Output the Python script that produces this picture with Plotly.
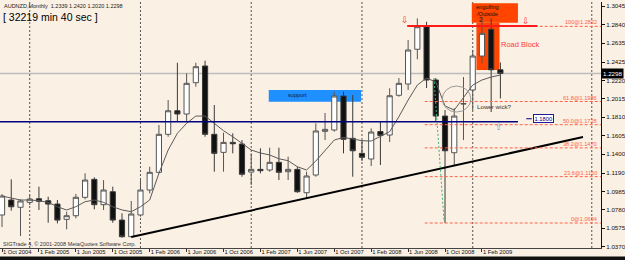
import plotly.graph_objects as go

# ---------------- data ----------------
month_idx = list(range(55))  # 0 = Oct 2004 ... 54 = Apr 2009
opens = [1.0723, 1.0890, 1.0809, 1.0864, 1.0904, 1.0882, 1.0845, 1.0675, 1.0715, 1.0920,
         1.1120, 1.0838, 1.0982, 1.0667, 1.0482, 1.0723, 1.1001, 1.1198, 1.1621, 1.1883,
         1.1847, 1.2195, 1.2381, 1.1621, 1.1420, 1.1531, 1.1513, 1.1201, 1.1231, 1.1224,
         1.1309, 1.1205, 1.1231, 1.0971, 1.1168, 1.1654, 1.1669, 1.2047, 1.1576, 1.1409,
         1.1346, 1.1652, 1.1613, 1.2055, 1.2181, 1.2567, 1.2818, 1.2225, 1.1824, 1.1416,
         1.1958, 1.2114, 1.2492, 1.2789, 1.2339]
highs = [1.0956, 1.1120, 1.0898, 1.0945, 1.1038, 1.0927, 1.0890, 1.0760, 1.0957, 1.1187,
         1.1142, 1.1112, 1.1038, 1.0742, 1.0879, 1.1112, 1.1260, 1.1724, 1.2002, 1.2417,
         1.2299, 1.2417, 1.2440, 1.1947, 1.1639, 1.1632, 1.1557, 1.1409, 1.1465, 1.1472,
         1.1472, 1.1372, 1.1260, 1.1205, 1.1743, 1.1858, 1.2095, 1.2095, 1.2058, 1.1557,
         1.1687, 1.1761, 1.2133, 1.2247, 1.2670, 1.2911, 1.2873, 1.2247, 1.1891, 1.1910,
         1.2258, 1.2559, 1.2911, 1.2911, 1.2420]
lows = [1.0589, 1.0771, 1.0489, 1.0834, 1.0779, 1.0637, 1.0630, 1.0564, 1.0686, 1.0898,
        1.0786, 1.0779, 1.0637, 1.0470, 1.0478, 1.0704, 1.0964, 1.1187, 1.1594, 1.1761,
        1.1761, 1.2150, 1.1594, 1.1205, 1.1205, 1.1409, 1.1149, 1.1057, 1.1187, 1.1205,
        1.1112, 1.1112, 1.0971, 1.0909, 1.1149, 1.1557, 1.1650, 1.1409, 1.1149, 1.1324,
        1.1268, 1.1279, 1.1535, 1.2039, 1.2114, 1.2455, 1.2136, 1.1758, 1.0634, 1.1268,
        1.1557, 1.1891, 1.2411, 1.1869, 1.2020]
closes = [1.0934, 1.0815, 1.0879, 1.0901, 1.0875, 1.0845, 1.0667, 1.0715, 1.0920, 1.1112,
          1.0838, 1.1001, 1.0667, 1.0482, 1.0734, 1.1001, 1.1198, 1.1621, 1.1883, 1.1847,
          1.2188, 1.2373, 1.1621, 1.1409, 1.1531, 1.1516, 1.1176, 1.1231, 1.1216, 1.1309,
          1.1198, 1.1231, 1.0982, 1.1157, 1.1658, 1.1676, 1.2047, 1.1565, 1.1438, 1.1365,
          1.1646, 1.1607, 1.2050, 1.2188, 1.2559, 1.2818, 1.2225, 1.1824, 1.1438, 1.1824,
          1.1962, 1.2492, 1.2744, 1.2339, 1.2298]
ma_values = [1.0934, 1.0912, 1.0890, 1.0890, 1.0882, 1.0864, 1.0815, 1.0779, 1.0815, 1.0871,
             1.0890, 1.0864, 1.0815, 1.0779, 1.0760, 1.0815, 1.0890, 1.1187, 1.1446, 1.1632,
             1.1743, 1.1824, 1.1824, 1.1743, 1.1661, 1.1594, 1.1521, 1.1446, 1.1413, 1.1391,
             1.1349, 1.1327, 1.1260, 1.1224, 1.1324, 1.1438, 1.1557, 1.1587, 1.1565, 1.1550,
             1.1546, 1.1594, 1.1650, 1.1817, 1.2002, 1.2169, 1.2247, 1.2203, 1.1936, 1.1891,
             1.2036, 1.2169, 1.2225, 1.2258, 1.2281]

date_tick_idx = list(range(0, 53, 4))
date_tick_text = ["1 Oct 2004", "1 Feb 2005", "1 Jun 2005", "1 Oct 2005", "1 Feb 2006",
                  "1 Jun 2006", "1 Oct 2006", "1 Feb 2007", "1 Jun 2007", "1 Oct 2007",
                  "1 Feb 2008", "1 Jun 2008", "1 Oct 2008", "1 Feb 2009"]
price_ticks = [1.3045, 1.2840, 1.2635, 1.2425, 1.2220, 1.2015, 1.1810, 1.1605,
               1.1400, 1.1190, 1.0985, 1.0780, 1.0575, 1.0370]

fib_names = ["100", "61.8", "50.0", "38.2", "23.6", "0"]
fib_levels = [1.2822, 1.1986, 1.1728, 1.1470, 1.1150, 1.0634]
fib_start = 45.8

trend_x = [14, 62.95]
trend_y = [1.0478, 1.1591]

roadblock_level = 1.2826
roadblock_x = [43.9, 58.0]
hline_level = 1.1761
hline_x = [-0.22, 55.9]
bid_price = 1.2298
grid_months = [3, 15, 27, 39, 51, 63.9]

X_RANGE = [-0.22, 64.9]
Y_RANGE = [1.0356, 1.3093]

BG = "#FAF0E4"
LBL = "Liberation Sans"

fig = go.Figure()

# MA
fig.add_trace(go.Scatter(x=month_idx, y=ma_values, mode="lines",
                         line=dict(color="#5a5a5a", width=1), hoverinfo="skip",
                         showlegend=False))

fig.add_trace(go.Candlestick(
    x=month_idx, open=opens, high=highs, low=lows, close=closes,
    increasing=dict(line=dict(color="#555555", width=1), fillcolor="#FFFFFF"),
    decreasing=dict(line=dict(color="#3a3a3a", width=1), fillcolor="#111111"),
    showlegend=False))

# trendline
fig.add_trace(go.Scatter(x=trend_x, y=trend_y, mode="lines",
                         line=dict(color="#000000", width=2), showlegend=False,
                         hoverinfo="skip"))

shapes = []
# vertical grid
for g in grid_months:
    shapes.append(dict(type="line", xref="x", yref="paper", x0=g, x1=g, y0=0, y1=1,
                       line=dict(color="#555555", width=1, dash="2px,2px"), layer="below"))
# bid line
shapes.append(dict(type="line", xref="paper", yref="y", x0=0, x1=1, y0=bid_price, y1=bid_price,
                   line=dict(color="#BDBDBD", width=1.5), layer="below"))
# support rectangle (blue)
shapes.append(dict(type="rect", xref="x", yref="y", x0=28.9, x1=38.9, y0=1.1984, y1=1.2114,
                   fillcolor="#1E90FF", line=dict(width=0), layer="below"))
# orange rectangles
shapes.append(dict(type="rect", xref="x", yref="y", x0=50.9, x1=55.9, y0=1.2862, y1=1.3078,
                   fillcolor="#FF4500", line=dict(width=0), layer="below"))
shapes.append(dict(type="rect", xref="x", yref="y", x0=51.4, x1=53.9, y0=1.2336, y1=1.2862,
                   fillcolor="#FF4500", line=dict(width=0), layer="below"))
# fib lines
for lv in fib_levels:
    shapes.append(dict(type="line", xref="x", yref="y", x0=fib_start, x1=X_RANGE[1],
                       y0=lv, y1=lv, line=dict(color="#FF6347", width=1, dash="3px,2px")))
# navy horizontal line
shapes.append(dict(type="line", xref="x", yref="y", x0=hline_x[0], x1=hline_x[1],
                   y0=hline_level, y1=hline_level, line=dict(color="#000080", width=1.5)))
shapes.append(dict(type="line", xref="x", yref="y", x0=56.8, x1=57.4,
                   y0=1.1794, y1=1.1794, line=dict(color="#000080", width=1)))
# road block line
shapes.append(dict(type="line", xref="x", yref="y", x0=roadblock_x[0], x1=roadblock_x[1],
                   y0=roadblock_level, y1=roadblock_level, line=dict(color="#FF1A1A", width=2)))
# green dashed
shapes.append(dict(type="line", xref="x", yref="y", x0=46.8, x1=47.9, y0=1.2247, y1=1.0645,
                   line=dict(color="#3CB371", width=1, dash="2px,2px")))
# ellipse
shapes.append(dict(type="circle", xref="x", yref="y", x0=47.7, x1=50.8, y0=1.1869, y1=1.2158,
                   line=dict(color="#9a9a9a", width=1)))
# bottom dark strip
shapes.append(dict(type="rect", xref="paper", yref="paper", x0=-0.01, x1=1.05,
                   y0=-0.0345, y1=-0.06, fillcolor="#111111", line=dict(width=0)))

ann = []
def txt(x, y, t, size, color, xanchor="left", xref="x", yref="y", font=LBL, **kw):
    ann.append(dict(x=x, y=y, xref=xref, yref=yref, text=t, showarrow=False,
                    xanchor=xanchor, yanchor="middle",
                    font=dict(family=font, size=size, color=color), **kw))

# header texts
txt(0.004, 1 - (6 - 2) / 246, "AUDNZD,Monthly  1.2339 1.2420 1.2020 1.2298", 5.5, "#222222",
    xref="paper", yref="paper")
txt(0.002, 1 - (16.5 - 2) / 246, "[ 32219 min 40 sec ]", 10.5, "#000000",
    xref="paper", yref="paper")
txt(0.002, 1 - (244 - 2) / 246, "SIGTrade 4, \u00a9 2001-2008 MetaQuotes Software Corp.", 5.5,
    "#333333", xref="paper", yref="paper")

# fib labels
for nm, lv in zip(fib_names, fib_levels):
    txt(0.9975, lv, f"{nm}@{lv:.4f}", 5.6, "#FF6347", xanchor="right", xref="paper", yshift=4)

# other labels
txt(32.0, 1.2053, "support", 5.6, "#1a1a40", xanchor="center")
txt(52.6, 1.3034, "engulfing", 5.6, "#111111", xanchor="center")
txt(52.6, 1.2960, "/Outside", 5.6, "#111111", xanchor="center")
txt(51.9, 1.2893, "2", 6.5, "#111111", xanchor="center")
txt(53.9, 1.2623, "Road Block", 7.5, "#FF3B3B")
txt(51.2, 1.1935, "Lower wick?", 6.2, "#333333")
txt(43.7, 1.2893, "\u21e9", 9, "#FF3030", xanchor="center", font="DejaVu Sans")
txt(56.8, 1.2882, "\u21e9", 9, "#FF3030", xanchor="center", font="DejaVu Sans")
txt(53.9, 1.1705, "\u21e7", 9, "#6F8FD0", xanchor="center", font="DejaVu Sans")
ann.append(dict(x=57.5, y=1.1794, xref="x", yref="y", text="1.1800", showarrow=False,
                xanchor="left", yanchor="middle", bgcolor="#FFFFFF", bordercolor="#1c1c9c",
                borderwidth=1, borderpad=0.5, font=dict(family=LBL, size=5.8, color="#000080")))
# bid price box
ann.append(dict(x=1.0, y=bid_price, xref="paper", yref="y", text="1.2298", showarrow=False,
                xanchor="left", yanchor="middle", bgcolor="#000000", borderpad=1,
                font=dict(family=LBL, size=6.2, color="#FFFFFF")))

fig.update_layout(
    width=625, height=260,
    margin=dict(l=0, r=24, t=2, b=12, pad=0),
    paper_bgcolor=BG, plot_bgcolor=BG,
    shapes=shapes, annotations=ann,
    showlegend=False,
    boxgap=0.2,
    xaxis=dict(range=X_RANGE, rangeslider=dict(visible=False), showgrid=False, zeroline=False,
               tickmode="array", tickvals=date_tick_idx, ticktext=date_tick_text,
               tickangle=0,
               ticks="outside", ticklen=3, tickcolor="#333333", tickwidth=1,
               ticklabelposition="outside right", ticklabelstandoff=-2,
               tickfont=dict(family=LBL, size=5.8, color="#111111"),
               showline=True, linecolor="#444444", linewidth=1),
    yaxis=dict(range=Y_RANGE, side="right", showgrid=False, zeroline=False,
               tickmode="array", tickvals=price_ticks,
               ticktext=[f"{v:.4f}" for v in price_ticks],
               ticks="outside", ticklen=3, tickcolor="#111111",
               tickfont=dict(family=LBL, size=6.2, color="#111111"),
               showline=True, linecolor="#111111", linewidth=1),
)

fig.write_html("out.html")
